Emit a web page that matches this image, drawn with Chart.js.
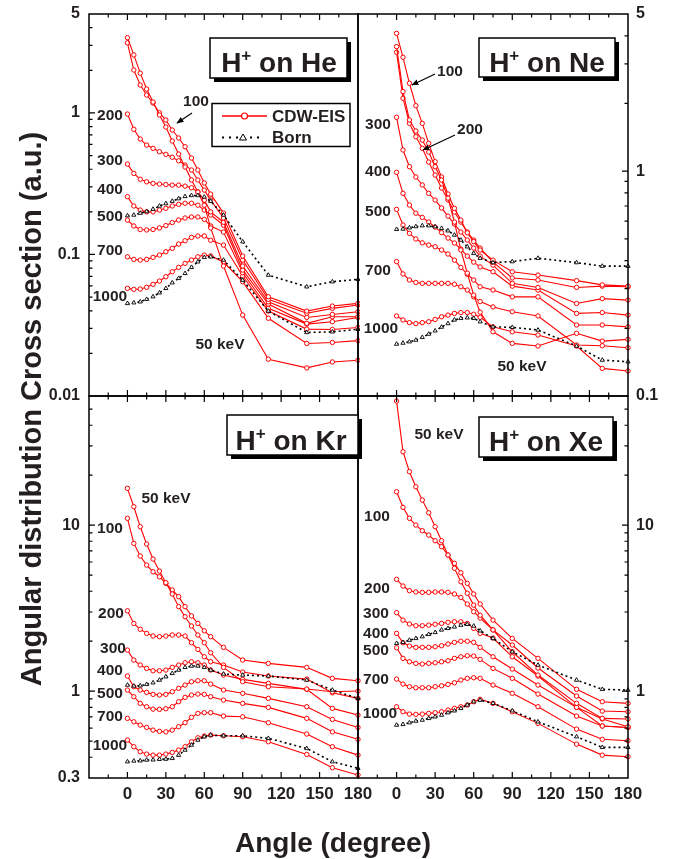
<!DOCTYPE html>
<html>
<head>
<meta charset="utf-8">
<script src="https://cdn.jsdelivr.net/npm/chart.js@4.4.1/dist/chart.umd.min.js"></script>
<style>
  body { margin: 0; background: #fff; }
  #page { position: relative; width: 673px; height: 859px; overflow: hidden; font-family: "Liberation Sans", Arial, sans-serif; color: #231f20; }
  canvas { position: absolute; }
  #overlay { position: absolute; left: 0; top: 0; }
  .ytitle { position: absolute; left: 31px; top: 409px; transform: translate(-50%, -50%) rotate(-90deg); white-space: nowrap; font-weight: bold; font-size: 29px; }
  .xtitle { position: absolute; left: 333px; top: 843px; transform: translate(-50%, -50%); white-space: nowrap; font-weight: bold; font-size: 28px; }
  .lab { font-weight: bold; font-size: 15.5px; fill: #231f20; text-anchor: middle; dominant-baseline: central; }
  .box { font-weight: bold; font-size: 28px; fill: #231f20; text-anchor: middle; }
  .leg { font-weight: bold; font-size: 17px; fill: #231f20; dominant-baseline: central; }
</style>
</head>
<body>
<div id="page">
  <canvas id="he" width="321" height="420" style="left:39px;top:-5px"></canvas>
  <canvas id="ne" width="314" height="420" style="left:354px;top:-5px"></canvas>
  <canvas id="kr" width="344" height="441" style="left:39px;top:377px"></canvas>
  <canvas id="xe" width="314" height="441" style="left:354px;top:377px"></canvas>

  <svg id="overlay" width="673" height="859">
    <defs>
      <marker id="ah" viewBox="0 0 10 10" refX="9" refY="5" markerWidth="6" markerHeight="6" orient="auto">
        <path d="M0,1 L10,5 L0,9 z" fill="#000"/>
      </marker>
    </defs>

    <!-- He -->
    <text class="lab" x="196" y="100">100</text>
    <text class="lab" x="110" y="114">200</text>
    <text class="lab" x="110" y="159">300</text>
    <text class="lab" x="110" y="188">400</text>
    <text class="lab" x="110" y="215">500</text>
    <text class="lab" x="110" y="249">700</text>
    <text class="lab" x="110" y="295">1000</text>
    <text class="lab" x="220" y="343">50 keV</text>
    <line x1="192" y1="113" x2="177" y2="123" stroke="#000" stroke-width="1.2" marker-end="url(#ah)"/>

    <!-- Ne -->
    <text class="lab" x="450" y="70">100</text>
    <text class="lab" x="470" y="128">200</text>
    <text class="lab" x="378" y="123">300</text>
    <text class="lab" x="378" y="170">400</text>
    <text class="lab" x="378" y="210">500</text>
    <text class="lab" x="378" y="269">700</text>
    <text class="lab" x="381" y="327">1000</text>
    <text class="lab" x="522" y="365">50 keV</text>
    <line x1="435" y1="74" x2="412" y2="85" stroke="#000" stroke-width="1.2" marker-end="url(#ah)"/>
    <line x1="455" y1="135" x2="423" y2="150" stroke="#000" stroke-width="1.2" marker-end="url(#ah)"/>

    <!-- Kr -->
    <text class="lab" x="166" y="497">50 keV</text>
    <text class="lab" x="110" y="527">100</text>
    <text class="lab" x="111" y="612">200</text>
    <text class="lab" x="113" y="647">300</text>
    <text class="lab" x="110" y="669">400</text>
    <text class="lab" x="110" y="692">500</text>
    <text class="lab" x="110" y="715">700</text>
    <text class="lab" x="110" y="744">1000</text>

    <!-- Xe -->
    <text class="lab" x="439" y="433">50 keV</text>
    <text class="lab" x="377" y="515">100</text>
    <text class="lab" x="377" y="587">200</text>
    <text class="lab" x="376" y="612">300</text>
    <text class="lab" x="376" y="632">400</text>
    <text class="lab" x="376" y="649">500</text>
    <text class="lab" x="376" y="678">700</text>
    <text class="lab" x="380" y="712">1000</text>

    <!-- title boxes -->
    <rect x="214" y="42" width="137" height="40" fill="#000"/>
    <rect x="210" y="38" width="137" height="40" fill="#fff" stroke="#000" stroke-width="1.5"/>
    <text class="box" x="279" y="71.5">H<tspan dy="-11" font-size="17">+</tspan><tspan dy="11"> on He</tspan></text>

    <rect x="483" y="42" width="136" height="39" fill="#000"/>
    <rect x="479" y="38" width="136" height="39" fill="#fff" stroke="#000" stroke-width="1.5"/>
    <text class="box" x="547" y="71.5">H<tspan dy="-11" font-size="17">+</tspan><tspan dy="11"> on Ne</tspan></text>

    <rect x="231" y="419" width="131" height="40" fill="#000"/>
    <rect x="227" y="415" width="131" height="40" fill="#fff" stroke="#000" stroke-width="1.5"/>
    <text class="box" x="291" y="450">H<tspan dy="-11" font-size="17">+</tspan><tspan dy="11"> on Kr</tspan></text>

    <rect x="483" y="421" width="134" height="40" fill="#000"/>
    <rect x="479" y="417" width="134" height="40" fill="#fff" stroke="#000" stroke-width="1.5"/>
    <text class="box" x="546" y="451">H<tspan dy="-11" font-size="17">+</tspan><tspan dy="11"> on Xe</tspan></text>

    <!-- legend -->
    <rect x="212" y="103.5" width="138" height="43" fill="#fff" stroke="#000" stroke-width="1.5"/>
    <line x1="222" y1="116" x2="267" y2="116" stroke="#ff0000" stroke-width="1.3"/>
    <circle cx="244.5" cy="116" r="3" fill="#fff" stroke="#ff0000" stroke-width="1.2"/>
    <text class="leg" x="272" y="116">CDW-EIS</text>
    <line x1="222" y1="137.5" x2="262" y2="137.5" stroke="#000" stroke-width="1.8" stroke-dasharray="2,5"/>
    <path d="M243,134 L246.5,140 L239.5,140 Z" fill="#fff" stroke="#000" stroke-width="1"/>
    <text class="leg" x="272" y="137.5">Born</text>
  </svg>

  <div class="ytitle">Angular distribution Cross section (a.u.)</div>
  <div class="xtitle">Angle (degree)</div>
</div>

<script>
const angles = [0, 5, 10, 15, 20, 25, 30, 35, 40, 45, 50, 55, 60, 65, 75, 90, 110, 140, 160, 180];
const energies = [50, 100, 200, 300, 400, 500, 700, 1000];
const bornEnergies = [500, 1000];
const xTicks = [0, 30, 60, 90, 120, 150, 180];

// H+ on He
const heTicks = [5, 1, 0.1, 0.01];
const heCdw = [
  [3.40, 2.57, 1.91, 1.475, 1.194, 0.967, 0.795, 0.633, 0.512, 0.415, 0.336, 0.276, 0.223, 0.154, 0.0828, 0.0373, 0.0182, 0.0158, 0.0174, 0.0179],
  [3.13, 2.01, 1.575, 1.338, 1.175, 1.003, 0.891, 0.757, 0.665, 0.577, 0.480, 0.395, 0.320, 0.267, 0.196, 0.0974, 0.0503, 0.0398, 0.0432, 0.0451],
  [0.982, 0.766, 0.654, 0.593, 0.562, 0.532, 0.510, 0.486, 0.459, 0.428, 0.395, 0.336, 0.285, 0.242, 0.181, 0.0913, 0.0482, 0.0384, 0.0416, 0.0439],
  [0.435, 0.374, 0.340, 0.326, 0.318, 0.3145, 0.312, 0.309, 0.309, 0.304, 0.296, 0.277, 0.242, 0.200, 0.169, 0.0828, 0.0463, 0.0359, 0.0377, 0.0394],
  [0.256, 0.220, 0.206, 0.200, 0.200, 0.206, 0.212, 0.220, 0.226, 0.230, 0.230, 0.223, 0.206, 0.190, 0.161, 0.0776, 0.0446, 0.0326, 0.0363, 0.0363],
  [0.175, 0.159, 0.150, 0.149, 0.150, 0.154, 0.160, 0.168, 0.175, 0.181, 0.184, 0.184, 0.177, 0.159, 0.144, 0.0743, 0.0416, 0.0322, 0.0335, 0.0359],
  [0.0963, 0.0923, 0.0913, 0.0923, 0.0954, 0.0990, 0.1045, 0.1105, 0.1185, 0.125, 0.132, 0.135, 0.135, 0.126, 0.1165, 0.0704, 0.0398, 0.0297, 0.0295, 0.0305],
  [0.0576, 0.0567, 0.057, 0.0586, 0.0615, 0.0649, 0.0696, 0.0755, 0.0811, 0.0865, 0.0913, 0.0963, 0.099, 0.0977, 0.0884, 0.0642, 0.0354, 0.0235, 0.0239, 0.0246]
];
const heBorn = [
  [0.188, 0.190, 0.196, 0.201, 0.209, 0.220, 0.229, 0.238, 0.248, 0.257, 0.261, 0.261, 0.255, 0.238, 0.190, 0.123, 0.0715, 0.0591, 0.0642, 0.0667],
  [0.0451, 0.0456, 0.0463, 0.0482, 0.0503, 0.0536, 0.0576, 0.0631, 0.0678, 0.0735, 0.0811, 0.0888, 0.0954, 0.0963, 0.0913, 0.0659, 0.0398, 0.0281, 0.0284, 0.0296]
];

// H+ on Ne
const neTicks = [5, 1, 0.1];
const neCdw = [
  [3.58, 2.26, 1.689, 1.509, 1.375, 1.216, 1.047, 0.913, 0.759, 0.594, 0.446, 0.352, 0.281, 0.236, 0.193, 0.1714, 0.1668, 0.190, 0.1755, 0.1786],
  [4.10, 3.21, 2.46, 1.955, 1.632, 1.330, 1.102, 0.942, 0.791, 0.683, 0.606, 0.532, 0.486, 0.446, 0.402, 0.357, 0.345, 0.326, 0.312, 0.308],
  [3.38, 2.11, 1.632, 1.423, 1.264, 1.098, 0.961, 0.841, 0.744, 0.658, 0.594, 0.536, 0.494, 0.455, 0.394, 0.335, 0.328, 0.304, 0.308, 0.306],
  [1.736, 1.242, 1.047, 0.942, 0.868, 0.797, 0.744, 0.686, 0.631, 0.582, 0.536, 0.494, 0.455, 0.419, 0.382, 0.317, 0.304, 0.258, 0.271, 0.267],
  [0.988, 0.797, 0.707, 0.650, 0.623, 0.594, 0.564, 0.533, 0.504, 0.479, 0.450, 0.419, 0.394, 0.375, 0.357, 0.308, 0.296, 0.233, 0.235, 0.229],
  [0.676, 0.576, 0.529, 0.499, 0.480, 0.469, 0.461, 0.446, 0.428, 0.402, 0.373, 0.348, 0.328, 0.306, 0.296, 0.276, 0.276, 0.207, 0.207, 0.203],
  [0.396, 0.349, 0.328, 0.320, 0.317, 0.317, 0.317, 0.317, 0.317, 0.314, 0.306, 0.296, 0.276, 0.263, 0.249, 0.237, 0.227, 0.1685, 0.1673, 0.1639],
  [0.227, 0.218, 0.212, 0.210, 0.212, 0.214, 0.219, 0.225, 0.229, 0.233, 0.235, 0.235, 0.231, 0.224, 0.203, 0.193, 0.1867, 0.1668, 0.1327, 0.1291]
];
const neBorn = [
  [0.551, 0.553, 0.560, 0.567, 0.572, 0.572, 0.566, 0.557, 0.543, 0.520, 0.494, 0.461, 0.431, 0.410, 0.392, 0.396, 0.410, 0.392, 0.378, 0.378],
  [0.1702, 0.172, 0.1743, 0.1773, 0.1823, 0.1886, 0.195, 0.2026, 0.210, 0.218, 0.2215, 0.2228, 0.2215, 0.214, 0.203, 0.202, 0.1965, 0.1668, 0.1445, 0.142]
];

// H+ on Kr
const krTicks = [10, 1, 0.3];
const krCdw = [
  [16.67, 12.92, 9.79, 7.70, 6.25, 5.29, 4.50, 3.85, 3.23, 2.81, 2.47, 2.18, 1.958, 1.704, 1.392, 1.140, 1.064, 1.030, 0.992, 1.002],
  [11.0, 7.77, 6.52, 5.75, 5.24, 4.89, 4.46, 4.07, 3.71, 3.23, 2.84, 2.56, 2.31, 2.13, 1.837, 1.540, 1.471, 1.392, 1.195, 1.156],
  [3.05, 2.56, 2.36, 2.23, 2.15, 2.13, 2.15, 2.18, 2.18, 2.15, 1.958, 1.786, 1.612, 1.504, 1.437, 1.304, 1.234, 1.183, 0.979, 0.905],
  [1.769, 1.540, 1.437, 1.372, 1.327, 1.327, 1.341, 1.392, 1.437, 1.483, 1.504, 1.483, 1.437, 1.341, 1.251, 1.178, 1.115, 1.026, 0.788, 0.718],
  [1.234, 1.064, 1.016, 0.984, 0.957, 0.948, 0.957, 0.992, 1.040, 1.089, 1.140, 1.156, 1.156, 1.104, 1.016, 0.971, 0.905, 0.806, 0.676, 0.605],
  [1.016, 0.926, 0.845, 0.806, 0.780, 0.777, 0.784, 0.806, 0.864, 0.918, 0.948, 0.961, 0.957, 0.926, 0.884, 0.845, 0.799, 0.686, 0.569, 0.513],
  [0.686, 0.654, 0.625, 0.605, 0.583, 0.573, 0.569, 0.583, 0.611, 0.646, 0.696, 0.735, 0.742, 0.742, 0.708, 0.701, 0.646, 0.552, 0.463, 0.412],
  [0.508, 0.463, 0.432, 0.418, 0.412, 0.412, 0.418, 0.428, 0.442, 0.463, 0.496, 0.524, 0.537, 0.544, 0.539, 0.532, 0.496, 0.416, 0.346, 0.313]
];
const krBorn = [
  [1.089, 1.074, 1.078, 1.099, 1.124, 1.167, 1.222, 1.281, 1.341, 1.392, 1.418, 1.418, 1.392, 1.341, 1.269, 1.251, 1.234, 1.167, 1.016, 0.905],
  [0.376, 0.380, 0.381, 0.385, 0.386, 0.389, 0.390, 0.394, 0.412, 0.442, 0.474, 0.508, 0.532, 0.544, 0.539, 0.539, 0.520, 0.452, 0.376, 0.343]
];

// H+ on Xe
const xeTicks = [10, 1];
const xeCdw = [
  [55.9, 27.7, 21.0, 17.04, 14.17, 11.88, 9.79, 8.06, 6.61, 5.50, 4.56, 3.89, 3.30, 2.87, 2.34, 1.897, 1.379, 0.935, 0.759, 0.752],
  [15.9, 12.81, 11.0, 10.02, 9.26, 8.72, 8.06, 7.42, 6.61, 5.89, 5.17, 4.46, 3.85, 3.35, 2.68, 2.08, 1.577, 1.026, 0.864, 0.845],
  [4.72, 4.30, 4.03, 3.96, 3.94, 3.94, 3.96, 3.96, 3.94, 3.85, 3.67, 3.35, 3.01, 2.76, 2.34, 1.728, 1.251, 0.845, 0.686, 0.680],
  [2.97, 2.68, 2.54, 2.48, 2.48, 2.50, 2.53, 2.56, 2.60, 2.62, 2.62, 2.56, 2.39, 2.23, 2.09, 1.612, 1.234, 0.799, 0.680, 0.611],
  [2.23, 1.958, 1.870, 1.837, 1.837, 1.837, 1.852, 1.878, 1.923, 1.969, 2.00, 2.00, 1.969, 1.837, 1.612, 1.359, 1.089, 0.799, 0.617, 0.605],
  [1.827, 1.577, 1.504, 1.471, 1.457, 1.471, 1.483, 1.504, 1.525, 1.577, 1.612, 1.635, 1.628, 1.555, 1.372, 1.195, 0.961, 0.708, 0.617, 0.605],
  [1.183, 1.104, 1.064, 1.049, 1.049, 1.049, 1.064, 1.078, 1.099, 1.124, 1.167, 1.195, 1.205, 1.195, 1.089, 0.971, 0.806, 0.591, 0.513, 0.503],
  [0.806, 0.752, 0.728, 0.725, 0.728, 0.735, 0.742, 0.752, 0.770, 0.788, 0.806, 0.825, 0.864, 0.893, 0.845, 0.752, 0.640, 0.480, 0.412, 0.403]
];
const xeBorn = [
  [1.942, 1.969, 2.03, 2.08, 2.13, 2.20, 2.26, 2.34, 2.39, 2.44, 2.50, 2.53, 2.47, 2.31, 2.08, 1.728, 1.437, 1.167, 1.026, 1.016],
  [0.625, 0.631, 0.646, 0.661, 0.670, 0.686, 0.701, 0.718, 0.742, 0.762, 0.788, 0.825, 0.864, 0.884, 0.845, 0.762, 0.654, 0.532, 0.459, 0.459]
];

Chart.defaults.font.family = "'Liberation Sans', Arial, sans-serif";
Chart.defaults.color = '#231f20';

// frame plus inward tick marks (x ticks top & bottom, y ticks on the labelled side)
function frameTicks(side) {
  return {
    id: 'frameTicks',
    afterDatasetsDraw(chart) {
      const { ctx, chartArea: a, scales: { x, y } } = chart;
      ctx.save();
      ctx.strokeStyle = '#000';
      ctx.lineWidth = 1.5;
      ctx.strokeRect(a.left, a.top, a.right - a.left, a.bottom - a.top);
      ctx.lineWidth = 1.2;
      ctx.beginPath();
      for (let d = -15; d < 180; d += 15) {
        const px = x.getPixelForValue(d);
        const len = d % 30 === 0 ? 6 : 3.5;
        ctx.moveTo(px, a.top); ctx.lineTo(px, a.top + len);
        ctx.moveTo(px, a.bottom); ctx.lineTo(px, a.bottom - len);
      }
      const x0 = side === 'left' ? a.left : a.right;
      const dir = side === 'left' ? 1 : -1;
      const lo = Math.floor(Math.log10(y.min)), hi = Math.ceil(Math.log10(y.max));
      for (let e = lo; e <= hi; e++) {
        for (let m = 1; m <= 9; m++) {
          const v = m * Math.pow(10, e);
          if (v <= y.min * 1.001 || v >= y.max * 0.999) continue;
          const py = y.getPixelForValue(v);
          const len = m === 1 ? 6 : 3.5;
          ctx.moveTo(x0, py); ctx.lineTo(x0 + dir * len, py);
        }
      }
      ctx.stroke();
      ctx.restore();
    }
  };
}

function makePanel(id, cdw, born, yMin, yMax, yTicks, side, showX, pad) {
  const datasets = [];
  born.forEach((vals, i) => datasets.push({
    label: 'Born ' + bornEnergies[i] + ' keV',
    data: angles.map((a, j) => ({ x: a, y: vals[j] })),
    borderColor: '#000',
    borderWidth: 1.6,
    borderDash: [2, 3],
    pointStyle: 'triangle',
    pointRadius: 2.4,
    pointBorderWidth: 0.9,
    pointBorderColor: '#000',
    pointBackgroundColor: '#fff',
    clip: false
  }));
  cdw.forEach((vals, i) => datasets.push({
    label: 'CDW-EIS ' + energies[i] + ' keV',
    data: angles.map((a, j) => ({ x: a, y: vals[j] })),
    borderColor: '#ff0000',
    borderWidth: 1.1,
    pointRadius: 2.2,
    pointBorderWidth: 1,
    pointBorderColor: '#ff0000',
    pointBackgroundColor: '#fff',
    clip: false
  }));

  new Chart(document.getElementById(id), {
    type: 'line',
    data: { datasets },
    options: {
      responsive: false,
      animation: false,
      devicePixelRatio: 1,
      layout: { autoPadding: false, padding: pad },
      plugins: { legend: { display: false }, tooltip: { enabled: false } },
      scales: {
        x: {
          type: 'linear', min: -30, max: 180, display: showX,
          grid: { display: false, drawTicks: false }, border: { display: false },
          afterBuildTicks: s => { s.ticks = xTicks.map(v => ({ value: v })); },
          afterFit: s => { if (showX) s.height = 40; },
          ticks: { autoSkip: false, maxRotation: 0, padding: 6, font: { size: 17, weight: 'bold' } }
        },
        y: {
          type: 'logarithmic', min: yMin, max: yMax, position: side,
          grid: { display: false, drawTicks: false }, border: { display: false },
          afterBuildTicks: s => { s.ticks = yTicks.map(v => ({ value: v })); },
          afterFit: s => { s.width = side === 'left' ? 50 : 40; },
          ticks: { autoSkip: false, padding: side === 'left' ? 9 : 8, callback: v => String(v), font: { size: 16, weight: 'bold' } }
        }
      }
    },
    plugins: [frameTicks(side)]
  });
}

// canvases are larger than the plot areas; the paddings put every frame on the shared grid lines
makePanel('he', heCdw, heBorn, 0.01, 5, heTicks, 'left', false, { top: 19, bottom: 19, right: 2 });
makePanel('ne', neCdw, neBorn, 0.1, 5, neTicks, 'right', false, { top: 19, bottom: 19, left: 4 });
makePanel('kr', krCdw, krBorn, 0.3, 60, krTicks, 'left', true, { top: 19, right: 25 });
makePanel('xe', xeCdw, xeBorn, 0.3, 60, xeTicks, 'right', true, { top: 19, left: 4 });
</script>
</body>
</html>
